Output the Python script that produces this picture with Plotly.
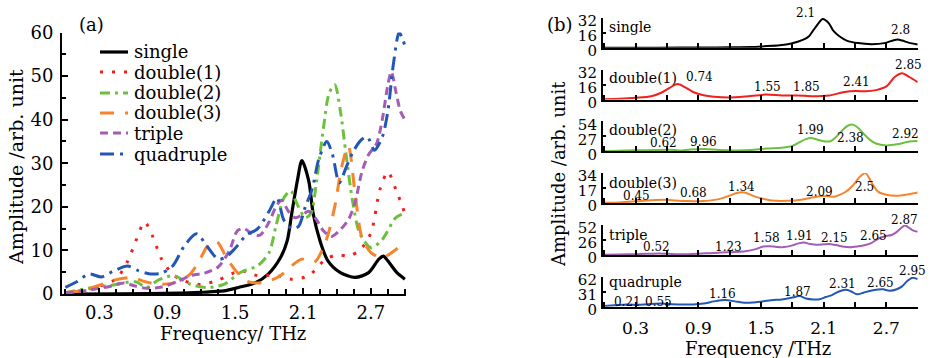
import plotly.graph_objects as go

W, H = 931, 358

# ---------------- data ----------------
names = ["single", "double(1)", "double(2)", "double(3)", "triple", "quadruple"]

freq_single = [0.0, 0.5, 1.0, 1.2, 1.4, 1.53, 1.68, 1.79, 1.9, 1.96, 2.0, 2.05, 2.09, 2.15, 2.19,
               2.25, 2.32, 2.43, 2.56, 2.68, 2.77, 2.81, 2.85, 2.93, 3.0]
amp_single = [0.0, 0.05, 0.2, 0.4, 0.7, 1.5, 2.6, 4.5, 8.3, 12.2, 18.4, 26, 30.6, 26, 18.4,
              12.2, 7.6, 4.9, 3.8, 4.9, 8.0, 8.7, 7.6, 4.9, 3.4]

freq_double1 = [0.0, 0.15, 0.3, 0.45, 0.55, 0.62, 0.7, 0.77, 0.85, 0.95, 1.05, 1.2, 1.35, 1.55,
                1.7, 1.85, 2.0, 2.15, 2.3, 2.41, 2.5, 2.6, 2.7, 2.78, 2.85, 2.92, 3.0]
amp_double1 = [0.3, 0.8, 1.8, 3.5, 7.5, 12, 16.5, 13.3, 8, 4.5, 3, 2.2, 3.2, 5.3,
               4.2, 4.3, 3.4, 4.2, 8, 9, 8.7, 10, 14, 24, 28, 24, 18.5]

freq_double2 = [0.0, 0.2, 0.4, 0.62, 0.72, 0.82, 0.96, 1.1, 1.25, 1.4, 1.55, 1.7, 1.8, 1.86, 1.93,
                1.99, 2.05, 2.12, 2.17, 2.22, 2.28, 2.33, 2.38, 2.43, 2.48, 2.54, 2.6, 2.7, 2.8,
                2.92, 3.0]
amp_double2 = [0.3, 1.3, 2.0, 2.8, 1.5, 3.2, 4.2, 2.3, 1.5, 2.2, 5.0, 6.5, 9.5, 15.5, 22,
               23.7, 20.5, 17.5, 18.5, 26, 38, 46, 48, 42, 32, 21, 14, 10.6, 12.5,
               17.5, 18.5]

freq_double3 = [0.0, 0.15, 0.3, 0.45, 0.6, 0.68, 0.8, 0.95, 1.1, 1.2, 1.27, 1.34, 1.42, 1.5, 1.6,
                1.75, 1.9, 2.0, 2.09, 2.2, 2.3, 2.38, 2.44, 2.5, 2.56, 2.62, 2.7, 2.8, 2.9, 3.0]
amp_double3 = [0.3, 0.8, 2.0, 3.3, 3.8, 3.0, 2.3, 2.5, 4.5, 8.5, 11.5, 12, 8.5, 5.5, 3.0,
               2.6, 4.2, 6.5, 8, 7.3, 12, 20, 29, 34, 23, 13, 9.5, 8.3, 9.8, 12]

freq_triple = [0.0, 0.15, 0.3, 0.4, 0.52, 0.62, 0.72, 0.85, 1.0, 1.12, 1.23, 1.35, 1.45, 1.52,
               1.58, 1.65, 1.72, 1.8, 1.86, 1.91, 1.97, 2.03, 2.1, 2.15, 2.22, 2.28, 2.35, 2.42,
               2.5, 2.56, 2.62, 2.68, 2.75, 2.8, 2.85, 2.88, 2.92, 2.96, 3.0]
amp_triple = [0.3, 0.7, 1.3, 1.8, 2.5, 1.8, 1.3, 1.6, 3.0, 4.3, 4.8, 6.2, 10, 14.5,
              15, 13.8, 13.5, 16.5, 20, 21.5, 19, 17.5, 18.3, 19, 17, 14.5, 13.2, 14.5,
              17, 21, 28, 32, 34.5, 40, 48, 51, 46.5, 42, 40]

freq_quad = [0.0, 0.1, 0.21, 0.32, 0.42, 0.55, 0.65, 0.75, 0.85, 0.95, 1.05, 1.16, 1.25, 1.35,
             1.42, 1.5, 1.6, 1.7, 1.8, 1.87, 1.93, 2.0, 2.06, 2.12, 2.18, 2.24, 2.31, 2.36,
             2.42, 2.48, 2.55, 2.62, 2.67, 2.73, 2.8, 2.85, 2.9, 2.95, 3.0]
amp_quad = [1.5, 2.8, 4.6, 3.9, 5.2, 6.4, 5.3, 4.6, 4.8, 6.5, 11, 13.8, 11, 8,
            8.5, 10.5, 13.5, 15, 19, 22, 17, 15, 15.5, 20, 24, 31, 35, 32,
            25.5, 29, 33, 35.5, 36, 33, 36, 42, 53, 60, 57]

freqs = [freq_single, freq_double1, freq_double2, freq_double3, freq_triple, freq_quad]
amps = [amp_single, amp_double1, amp_double2, amp_double3, amp_triple, amp_quad]

# panel (b) y-axis maxima
panel_max = [32, 32, 54, 34, 52, 62]

# peak labels in panel (b)
peak_text = [
    ["2.1", "2.8"],
    ["0.74", "1.55", "1.85", "2.41", "2.85"],
    ["0.62", "9.96", "1.99", "2.38", "2.92"],
    ["0.45", "0.68", "1.34", "2.09", "2.5"],
    ["0.52", "1.23", "1.58", "1.91", "2.15", "2.65", "2.87"],
    ["0.21", "0.55", "1.16", "1.87", "2.31", "2.65", "2.95"],
]

x_major = [0.3, 0.9, 1.5, 2.1, 2.7]
x_major_text = ["0.3", "0.9", "1.5", "2.1", "2.7"]

# ---------------- layout / style (positions) ----------------
FONT = "DejaVu Serif"
colors = ["#000000", "#f0201c", "#6cc13c", "#f6842c", "#a35db5", "#2257b5"]
dashes = ["solid", "3px,9px", "10px,5px,3px,5px", "14px,11px", "8px,5px", "14px,6px,3px,6px"]
widths_a = [3.2, 3, 3, 3, 3, 3]

# peak-label positions: (x in THz, px above panel baseline)
peak_pos = [
    [(1.93, 34.4), (2.84, 17.7)],
    [(0.915, 22.8), (1.56, 12.8), (1.94, 12.8), (2.41, 17.2), (2.91, 34.5)],
    [(0.57, 8), (0.95, 9.6), (1.97, 21.3), (2.36, 13), (2.88, 17)],
    [(0.31, 7.4), (0.85, 9.8), (1.31, 16.4), (2.06, 10.8), (2.49, 16.4)],
    [(0.5, 8.2), (1.19, 8.2), (1.55, 16.6), (1.87, 19.2), (2.2, 17.2), (2.58, 19.2), (2.87, 34.9)],
    [(0.22, 5), (0.52, 5), (1.13, 12.4), (1.85, 14.4), (2.28, 22.4), (2.64, 23.4), (2.95, 35.7)],
]
name_pos = [21, 21, 21.3, 19.8, 20, 24.4]

# legend rows (px)
legend_rows = [52, 72, 93, 113, 133, 154]
LEG_X0, LEG_X1, LEG_TX = 100, 128, 132

def fy(py):
    return 1 - py / H

def fx(px):
    return px / W

A_LEFT, A_RIGHT, A_BOT, A_TOP = 62, 406, 294, 32.5
B_LEFT, B_RIGHT = 602.7, 917.7
B_BASE0, B_STEP, B_H = 47.7, 51.8, 30

fig = go.Figure()

# panel (a)
for i in range(6):
    fig.add_trace(go.Scatter(
        x=freqs[i], y=amps[i], mode="lines", name=names[i],
        line=dict(color=colors[i], width=widths_a[i], dash=dashes[i], shape="spline", smoothing=0.8),
        xaxis="x", yaxis="y", showlegend=False))

# panel (b)
for i in range(6):
    fig.add_trace(go.Scatter(
        x=freqs[i], y=amps[i], mode="lines", name=names[i],
        line=dict(color=colors[i], width=2, shape="spline", smoothing=0.8),
        xaxis=f"x{i+2}", yaxis=f"y{i+2}", showlegend=False))

layout = dict(
    width=W, height=H, margin=dict(l=0, r=0, t=0, b=0, autoexpand=False),
    paper_bgcolor="white", plot_bgcolor="white",
    font=dict(family=FONT, color="black", size=18),
    showlegend=False,
)

layout["xaxis"] = dict(
    domain=[fx(A_LEFT), fx(A_RIGHT)], range=[-0.03, 3.01], anchor="y", automargin=False,
    showline=True, linecolor="black", linewidth=2, showgrid=False, zeroline=False,
    tickvals=x_major, ticktext=x_major_text, ticks="inside", ticklen=6, tickwidth=1.5,
    tickcolor="black", tickfont=dict(size=18), ticklabelstandoff=1,
    minor=dict(tick0=0, dtick=0.15, ticks="inside", ticklen=5, tickwidth=1.5, tickcolor="black"),
)
layout["yaxis"] = dict(
    domain=[fy(A_BOT), fy(A_TOP)], range=[0, 60], anchor="x", automargin=False,
    showline=True, linecolor="black", linewidth=2, showgrid=False, zeroline=False,
    tick0=0, dtick=10, ticks="inside", ticklen=6, tickwidth=1.5, tickcolor="black",
    tickfont=dict(size=18), ticklabelstandoff=3,
    minor=dict(dtick=5, ticks="inside", ticklen=4, tickwidth=1.5, tickcolor="black"),
)

for i in range(6):
    base = B_BASE0 + B_STEP * i
    xa = dict(
        domain=[fx(B_LEFT), fx(B_RIGHT)], range=[-0.015, 3.0], anchor=f"y{i+2}", automargin=False,
        showline=True, linecolor="black", linewidth=2, showgrid=False, zeroline=False,
        tickvals=x_major, ticktext=x_major_text, ticks="inside", ticklen=5, tickwidth=1.5,
        tickcolor="black", tickfont=dict(size=17), showticklabels=(i == 5), ticklabelstandoff=5,
        minor=dict(tick0=0, dtick=0.3, ticks="inside", ticklen=5, tickwidth=1.5, tickcolor="black"),
    )
    ya = dict(
        domain=[fy(base), fy(base - B_H)], range=[0, panel_max[i]], anchor=f"x{i+2}",
        automargin=False,
        showline=True, linecolor="black", linewidth=1.5, showgrid=False, zeroline=False,
        tickvals=[0, panel_max[i] / 2, panel_max[i]],
        ticktext=[str(0), str(panel_max[i] // 2), str(panel_max[i])],
        ticks="inside", ticklen=4, tickwidth=1.5, tickcolor="black",
        tickfont=dict(size=15), ticklabelstandoff=1, ticklabelshift=3,
    )
    layout[f"xaxis{i+2}"] = xa
    layout[f"yaxis{i+2}"] = ya

annotations = [
    dict(text="Amplitude /arb. unit", x=fx(16), y=fy(167), xref="paper", yref="paper",
         textangle=-90, showarrow=False, font=dict(size=19), xanchor="center", yanchor="middle"),
    dict(text="Amplitude /arb. unit", x=fx(558), y=fy(174), xref="paper", yref="paper",
         textangle=-90, showarrow=False, font=dict(size=18), xanchor="center", yanchor="middle"),
    dict(text="Frequency/ THz", x=fx(233), y=fy(333), xref="paper", yref="paper",
         showarrow=False, font=dict(size=18), xanchor="center", yanchor="middle"),
    dict(text="Frequency /THz", x=fx(758), y=fy(348), xref="paper", yref="paper",
         showarrow=False, font=dict(size=18), xanchor="center", yanchor="middle"),
    dict(text="(a)", x=fx(77), y=fy(25), xref="paper", yref="paper", showarrow=False,
         font=dict(size=18), xanchor="left", yanchor="middle"),
    dict(text="(b)", x=fx(545), y=fy(25), xref="paper", yref="paper", showarrow=False,
         font=dict(size=18), xanchor="left", yanchor="middle"),
]
shapes = []
for i in range(6):
    # legend of panel (a)
    shapes.append(dict(type="line", xref="paper", yref="paper",
                       x0=fx(LEG_X0), x1=fx(LEG_X1), y0=fy(legend_rows[i]), y1=fy(legend_rows[i]),
                       line=dict(color=colors[i], width=widths_a[i], dash=dashes[i])))
    annotations.append(dict(text=names[i], x=fx(LEG_TX), y=fy(legend_rows[i]), xref="paper",
                            yref="paper", showarrow=False, font=dict(size=18),
                            xanchor="left", yanchor="middle"))
    # panel (b) labels
    base = B_BASE0 + B_STEP * i
    annotations.append(dict(text=names[i], x=fx(607), y=fy(base - name_pos[i]), xref="paper",
                            yref="paper", showarrow=False, font=dict(size=14),
                            xanchor="left", yanchor="middle"))
    for t, (px_thz, up) in zip(peak_text[i], peak_pos[i]):
        annotations.append(dict(text=t, x=px_thz, y=fy(base - up), xref=f"x{i+2}", yref="paper",
                                showarrow=False, font=dict(size=12), xanchor="center",
                                yanchor="middle"))
layout["annotations"] = annotations
layout["shapes"] = shapes

fig.update_layout(**layout)
fig.write_html("out.html")
